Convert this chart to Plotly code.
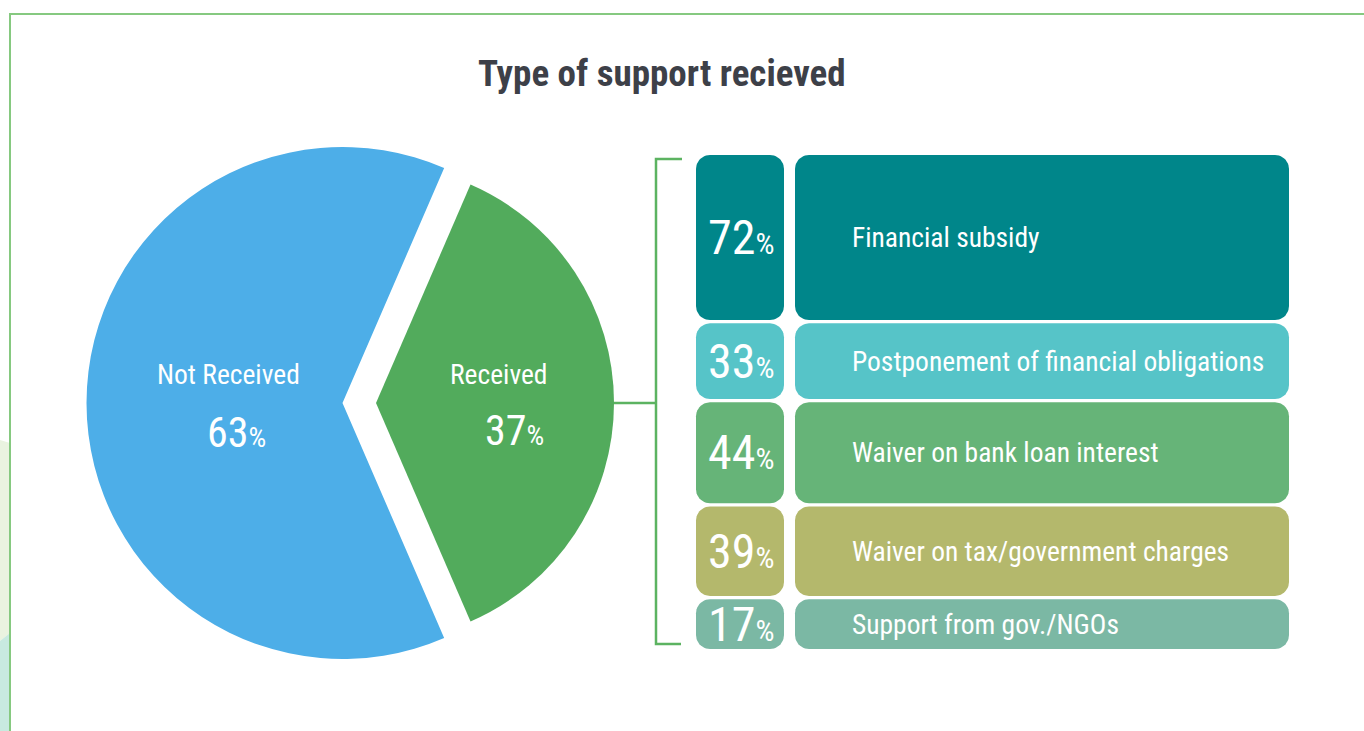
import numpy as np
import plotly.graph_objects as go

W, H = 1364, 731

# ---- data ----
title_text = "Type of support recieved"

pie_labels = ["Received", "Not Received"]
pie_values = [37, 63]
pie_colors = ["#52ab5c", "#4daee8"]

support_types = [
    "Financial subsidy",
    "Postponement of financial obligations",
    "Waiver on bank loan interest",
    "Waiver on tax/government charges",
    "Support from gov./NGOs",
]
support_pct = [72, 33, 44, 39, 17]
support_colors = ["#00868a", "#56c4c8", "#66b478", "#b4b86c", "#7bb8a4"]

# ---- layout constants (pixels) ----
FONT = "Liberation Sans Narrow, Roboto Condensed, DejaVu Sans Condensed, sans-serif"
STACK_TOP_PX, STACK_BOTTOM_PX = 155, 649
MIN_ROW = 21.7          # smallest row height, in percentage points
ROW_GAP = 1.45          # gap between rows, in percentage points
PCT_COL = (696, 784)
LABEL_COL = (795, 1289)
CORNER_PX = 14

BLUE_CENTER, BLUE_R = (342.5, 403), 256
GREEN_CENTER, GREEN_R = (376, 403), 238


def px(x):
    return x / W


def py(y):
    return 1 - y / H


# row extents along the y axis (percentage points, top to bottom)
row_h = [max(v, MIN_ROW) for v in support_pct]
row_top, pos = [], 0.0
for h in row_h:
    row_top.append(pos)
    pos += h + ROW_GAP
stack_total = pos - ROW_GAP
scale = (STACK_BOTTOM_PX - STACK_TOP_PX) / stack_total      # px per point
y_range = [(H - STACK_TOP_PX) / scale, -STACK_TOP_PX / scale]


def rounded_rect(x0, x1, y0, y1, rx, ry, n=12):
    xs, ys = [], []
    corners = [
        (x1 - rx, y0 + ry, -90, 0),
        (x1 - rx, y1 - ry, 0, 90),
        (x0 + rx, y1 - ry, 90, 180),
        (x0 + rx, y0 + ry, 180, 270),
    ]
    for cx, cy, a0, a1 in corners:
        for a in np.radians(np.linspace(a0, a1, n)):
            xs.append(cx + rx * np.cos(a))
            ys.append(cy + ry * np.sin(a))
    xs.append(xs[0])
    ys.append(ys[0])
    return xs, ys


fig = go.Figure()

# ---- stacked rounded boxes ----
ry = CORNER_PX / scale
for name, v, h, top, col in zip(support_types, support_pct, row_h, row_top, support_colors):
    for x0, x1 in (PCT_COL, LABEL_COL):
        rx = min(CORNER_PX, (x1 - x0) / 2)
        xs, ys = rounded_rect(x0, x1, top, top + h, rx, min(ry, h / 2))
        fig.add_trace(go.Scatter(
            x=xs, y=ys, mode="lines", fill="toself",
            fillcolor=col, line=dict(width=0, color=col),
            hoverinfo="text", hovertext=f"{name}: {v}%", showlegend=False,
        ))
    mid = top + h / 2
    fig.add_annotation(
        x=sum(PCT_COL) / 2 + 1, y=mid, xref="x", yref="y",
        text=f"{v}<span style=\"font-size:30px\">%</span>",
        showarrow=False, xanchor="center", yanchor="middle",
        font=dict(family=FONT, size=48, color="white"),
    )
    fig.add_annotation(
        x=850, y=mid, xref="x", yref="y", text=name,
        showarrow=False, xanchor="left", yanchor="middle",
        font=dict(family=FONT, size=27.5, color="white"),
    )

# ---- pie: two layers so the pulled slice keeps its own centre ----
rotation = 90 - pie_values[0] / sum(pie_values) * 360 / 2


def pie_domain(center, r):
    cx, cy = center
    return dict(x=[px(cx - r), px(cx + r)], y=[py(cy + r), py(cy - r)])


for idx, (center, r) in enumerate([(BLUE_CENTER, BLUE_R), (GREEN_CENTER, GREEN_R)]):
    shown = 1 if idx == 0 else 0
    cols = ["rgba(0,0,0,0)"] * len(pie_values)
    cols[shown] = pie_colors[shown]
    fig.add_trace(go.Pie(
        labels=pie_labels, values=pie_values, sort=False,
        direction="clockwise", rotation=rotation,
        marker=dict(colors=cols, line=dict(width=0)),
        textinfo="none", hoverinfo="label+percent", showlegend=False,
        domain=pie_domain(center, r),
    ))

# pie labels
pie_text_pos = {"Not Received": ((228, 374), (236, 432)),
                "Received": ((499, 374), (514, 431))}
for lab, v in zip(pie_labels, pie_values):
    (lx, ly), (vx, vy) = pie_text_pos[lab]
    fig.add_annotation(x=px(lx), y=py(ly), xref="paper", yref="paper", text=lab,
                       showarrow=False, xanchor="center", yanchor="middle",
                       font=dict(family=FONT, size=27.5, color="white"))
    fig.add_annotation(x=px(vx), y=py(vy), xref="paper", yref="paper",
                       text=f"{v}<span style=\"font-size:28px\">%</span>",
                       showarrow=False, xanchor="center", yanchor="middle",
                       font=dict(family=FONT, size=42, color="white"))

# title
fig.add_annotation(x=px(662), y=py(73), xref="paper", yref="paper",
                   text=f"<b>{title_text}</b>", showarrow=False,
                   xanchor="center", yanchor="middle",
                   font=dict(family=FONT, size=37, color="#3d4048"))

# ---- decorations: frame, side band, bracket ----
shapes = [
    dict(type="path", xref="paper", yref="paper", layer="below",
         path=f"M0,{py(440)} L{px(10)},{py(443)} L{px(10)},{py(633)} L0,{py(641)} Z",
         fillcolor="#eaf3e0", line=dict(width=0)),
    dict(type="path", xref="paper", yref="paper", layer="below",
         path=f"M0,{py(641)} L{px(10)},{py(633)} L{px(10)},0 L0,0 Z",
         fillcolor="#c8eae0", line=dict(width=0)),
    dict(type="line", xref="paper", yref="paper", x0=px(10), x1=1, y0=py(14), y1=py(14),
         line=dict(color="#86c980", width=2)),
    dict(type="line", xref="paper", yref="paper", x0=px(10), x1=px(10), y0=py(13), y1=0,
         line=dict(color="#86c980", width=2)),
    dict(type="path", xref="paper", yref="paper", layer="below",
         path=f"M{px(682)},{py(159)} L{px(656)},{py(159)} L{px(656)},{py(644)} L{px(681)},{py(644)}",
         line=dict(color="#5cb361", width=2.5)),
    dict(type="line", xref="paper", yref="paper", layer="below",
         x0=px(600), x1=px(656), y0=py(403), y1=py(403),
         line=dict(color="#5cb361", width=2.5)),
]

fig.update_layout(
    width=W, height=H, margin=dict(l=0, r=0, t=0, b=0),
    paper_bgcolor="white", plot_bgcolor="rgba(0,0,0,0)",
    xaxis=dict(range=[0, W], domain=[0, 1], visible=False, fixedrange=True),
    yaxis=dict(range=y_range, domain=[0, 1], visible=False, fixedrange=True),
    shapes=shapes, showlegend=False,
    hoverlabel=dict(font=dict(family=FONT)),
)

fig.write_html("out.html", config={"displayModeBar": False})
